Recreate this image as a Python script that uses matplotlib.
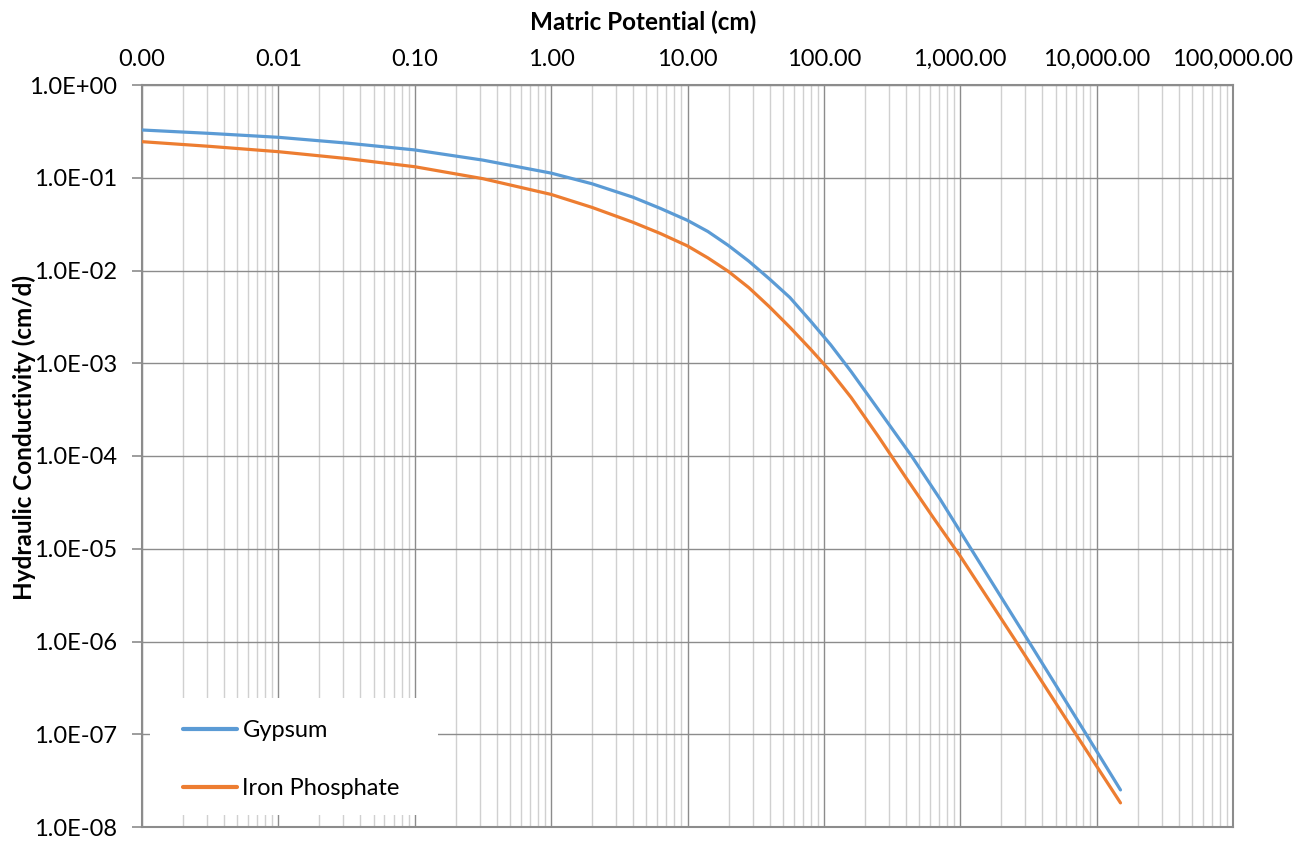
import matplotlib
matplotlib.use("Agg")
import matplotlib.pyplot as plt
from matplotlib.patches import Rectangle
from matplotlib.ticker import LogLocator, FixedLocator, NullLocator, FixedFormatter

plt.rcParams['font.family'] = ['Lato', 'DejaVu Sans']

# Matric potential (cm) and hydraulic conductivity (cm/d)
gypsum_h = [0.001, 0.003162, 0.01, 0.03162, 0.1, 0.3162, 1, 1.995, 3.981, 6.310, 10, 14.13,
            19.95, 28.18, 39.81, 56.23, 79.43, 112.2, 158.5, 251.2, 439.5, 707.9, 1175, 3090,
            8318, 14962]
gypsum_k = [0.3273, 0.3006, 0.2729, 0.2366, 0.1995, 0.1549, 0.1122, 0.0861, 0.0617, 0.0468,
            0.0347, 0.0263, 0.0186, 0.01259, 0.00813, 0.00513, 0.00288, 0.00158, 8.13e-4,
            3.16e-4, 1.0e-4, 3.47e-5, 1.047e-5, 1.07e-6, 1.02e-7, 2.51e-8]

iron_h = [0.001, 0.003162, 0.01, 0.03162, 0.1, 0.3162, 1, 1.995, 3.981, 6.310, 10, 14.13,
          19.95, 28.18, 39.81, 56.23, 79.43, 112.2, 158.5, 251.2, 398.1, 631.0, 1000, 2512,
          7047, 14962]
iron_k = [0.2449, 0.2178, 0.1910, 0.1611, 0.1315, 0.0977, 0.0661, 0.0479, 0.0331, 0.0251,
          0.0184, 0.01365, 0.00977, 0.00653, 0.00407, 0.00245, 0.00143, 8.13e-4, 4.27e-4,
          1.62e-4, 5.89e-5, 2.19e-5, 8.32e-6, 1.05e-6, 1.0e-7, 1.82e-8]

x_ticks = [1e-3, 1e-2, 1e-1, 1e0, 1e1, 1e2, 1e3, 1e4, 1e5]
x_tick_labels = ["0.00", "0.01", "0.10", "1.00", "10.00", "100.00", "1,000.00",
                 "10,000.00", "100,000.00"]
y_ticks = [1e0, 1e-1, 1e-2, 1e-3, 1e-4, 1e-5, 1e-6, 1e-7, 1e-8]
y_tick_labels = ["1.0E+00", "1.0E-01", "1.0E-02", "1.0E-03", "1.0E-04", "1.0E-05",
                 "1.0E-06", "1.0E-07", "1.0E-08"]

series_names = ["Gypsum", "Iron Phosphate"]
colors = ["#5B9BD5", "#ED7D31"]

W, H = 1309, 841
AX_L, AX_R, AX_T, AX_B = 142, 1233, 85, 827
fig = plt.figure(figsize=(W / 100, H / 100), dpi=100)
ax = fig.add_axes([AX_L / W, 1 - AX_B / H, (AX_R - AX_L) / W, (AX_B - AX_T) / H])


def ax_frac(px, py):
    return (px - AX_L) / (AX_R - AX_L), (AX_B - py) / (AX_B - AX_T)


ax.plot(gypsum_h, gypsum_k, color=colors[0], lw=2.3, solid_capstyle='round',
        solid_joinstyle='round', label=series_names[0], zorder=4)
ax.plot(iron_h, iron_k, color=colors[1], lw=2.3, solid_capstyle='round',
        solid_joinstyle='round', label=series_names[1], zorder=4)

ax.set_xscale('log')
ax.set_yscale('log')
ax.set_xlim(1e-3, 1e5)
ax.set_ylim(1e-8, 1e0)

ax.xaxis.tick_top()
ax.xaxis.set_major_locator(FixedLocator(x_ticks))
ax.xaxis.set_major_formatter(FixedFormatter(x_tick_labels))
ax.xaxis.set_minor_locator(LogLocator(base=10, subs=range(2, 10), numticks=20))
ax.yaxis.set_major_locator(FixedLocator(y_ticks))
ax.yaxis.set_major_formatter(FixedFormatter(y_tick_labels))
ax.yaxis.set_minor_locator(NullLocator())

ax.tick_params(axis='x', which='both', length=0, pad=11, labelsize=17)
ax.tick_params(axis='y', which='major', length=7, width=1.2, color='#8c8c8c', pad=11, labelsize=17)

ax.grid(which='major', axis='both', color='#8c8c8c', lw=1.0, zorder=0)
ax.grid(which='minor', axis='x', color='#d0d0d0', lw=1.0, zorder=0)
ax.set_axisbelow(True)

for s in ax.spines.values():
    s.set_color('#8c8c8c')
    s.set_linewidth(1.5)

fig.text(643 / W, 1 - 22 / H, "Matric Potential (cm)", fontsize=17.5, fontweight='bold',
         ha='center', va='center')
fig.text(24 / W, 1 - 437 / H, "Hydraulic Conductivity (cm/d)", fontsize=17.5, fontweight='bold',
         ha='center', va='center', rotation=90)

# legend background box
x0, y0 = ax_frac(150, 815)
x1, y1 = ax_frac(438, 698)
ax.add_patch(Rectangle((x0, y0), x1 - x0, y1 - y0, transform=ax.transAxes,
                       facecolor='white', edgecolor='none', zorder=2))

lx, ly = ax_frac(183, 720)
leg = ax.legend(loc='upper left', bbox_to_anchor=(lx, ly), frameon=False,
                fontsize=17, handlelength=2.3, handletextpad=0.22, labelspacing=1.57,
                borderpad=0, borderaxespad=0)
leg.set_zorder(5)
for line in leg.get_lines():
    line.set_linewidth(3)

fig.savefig("out.png", dpi=100)
